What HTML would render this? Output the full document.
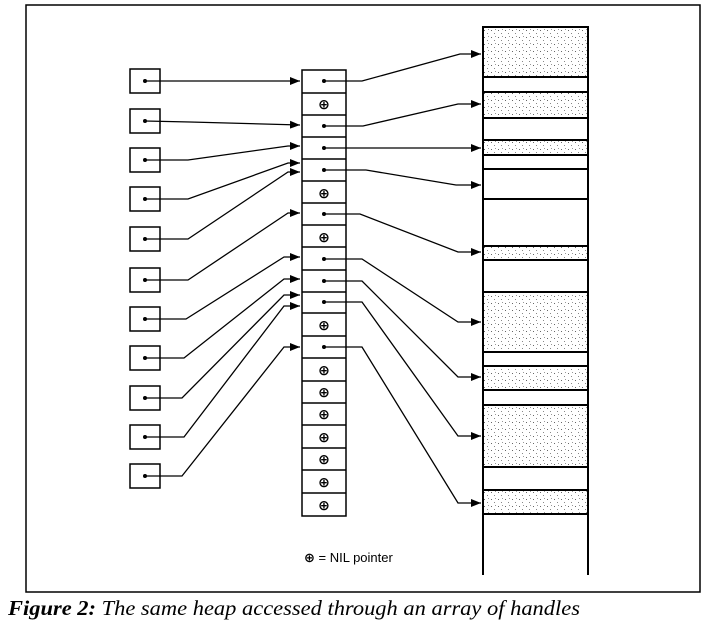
<!DOCTYPE html>
<html><head><meta charset="utf-8"><style>
html,body{margin:0;padding:0;background:#fff;width:712px;height:632px;overflow:hidden}
svg{display:block}
</style></head><body>
<svg width="712" height="632" viewBox="0 0 712 632" xmlns="http://www.w3.org/2000/svg">
<defs>
<pattern id="dots" width="7" height="7" patternUnits="userSpaceOnUse">
<rect width="7" height="7" fill="#fff"/>
<rect x="1" y="2" width="1" height="1" fill="#666"/>
<rect x="4" y="5" width="1" height="1" fill="#888"/>
<rect x="5" y="1" width="1" height="1" fill="#999"/>
</pattern>
<marker id="ah" viewBox="0 0 10 8" refX="10" refY="4" markerWidth="10" markerHeight="8" markerUnits="userSpaceOnUse" orient="auto">
<path d="M0,0 L10,4 L0,8 z" fill="#000"/>
</marker>
</defs>
<rect x="26" y="5" width="674" height="587" fill="none" stroke="#000" stroke-width="1.5"/>

<!-- heap -->
<g stroke="#000" stroke-width="2">
<rect x="483" y="27" width="105" height="50" fill="url(#dots)"/>
<rect x="483" y="92" width="105" height="26" fill="url(#dots)"/>
<rect x="483" y="140" width="105" height="15" fill="url(#dots)"/>
<rect x="483" y="246" width="105" height="14" fill="url(#dots)"/>
<rect x="483" y="292" width="105" height="60" fill="url(#dots)"/>
<rect x="483" y="366" width="105" height="24" fill="url(#dots)"/>
<rect x="483" y="405" width="105" height="62" fill="url(#dots)"/>
<rect x="483" y="490" width="105" height="24" fill="url(#dots)"/>
<line x1="483" y1="27" x2="483" y2="575"/>
<line x1="588" y1="27" x2="588" y2="575"/>
<line x1="483" y1="169" x2="588" y2="169"/>
<line x1="483" y1="199" x2="588" y2="199"/>
</g>

<!-- middle column -->
<g stroke="#000" stroke-width="1.5" fill="none">
<rect x="302" y="70" width="44" height="446"/>
<line x1="302" y1="93" x2="346" y2="93"/><line x1="302" y1="115" x2="346" y2="115"/>
<line x1="302" y1="137" x2="346" y2="137"/><line x1="302" y1="159" x2="346" y2="159"/>
<line x1="302" y1="181" x2="346" y2="181"/><line x1="302" y1="203" x2="346" y2="203"/>
<line x1="302" y1="225" x2="346" y2="225"/><line x1="302" y1="247" x2="346" y2="247"/>
<line x1="302" y1="270" x2="346" y2="270"/><line x1="302" y1="292" x2="346" y2="292"/>
<line x1="302" y1="313" x2="346" y2="313"/><line x1="302" y1="336" x2="346" y2="336"/>
<line x1="302" y1="358" x2="346" y2="358"/><line x1="302" y1="381" x2="346" y2="381"/>
<line x1="302" y1="403" x2="346" y2="403"/><line x1="302" y1="425" x2="346" y2="425"/>
<line x1="302" y1="448" x2="346" y2="448"/><line x1="302" y1="470" x2="346" y2="470"/>
<line x1="302" y1="493" x2="346" y2="493"/>
</g>
<g font-family="DejaVu Sans, sans-serif" font-size="14" font-weight="bold" text-anchor="middle" fill="#000">
<text x="324" y="109">⊕</text><text x="324" y="198">⊕</text><text x="324" y="242">⊕</text>
<text x="324" y="330">⊕</text><text x="324" y="375">⊕</text><text x="324" y="397">⊕</text>
<text x="324" y="419">⊕</text><text x="324" y="442">⊕</text><text x="324" y="464">⊕</text>
<text x="324" y="487">⊕</text><text x="324" y="510">⊕</text>
</g>
<g fill="#000">
<circle cx="324" cy="81" r="2"/><circle cx="324" cy="126" r="2"/><circle cx="324" cy="148" r="2"/>
<circle cx="324" cy="170" r="2"/><circle cx="324" cy="214" r="2"/><circle cx="324" cy="259" r="2"/>
<circle cx="324" cy="281" r="2"/><circle cx="324" cy="302" r="2"/><circle cx="324" cy="347" r="2"/>
</g>

<!-- left boxes -->
<g stroke="#000" stroke-width="1.5" fill="none">
<rect x="130" y="69" width="30" height="24"/><rect x="130" y="109" width="30" height="24"/>
<rect x="130" y="148" width="30" height="24"/><rect x="130" y="187" width="30" height="24"/>
<rect x="130" y="227" width="30" height="24"/><rect x="130" y="268" width="30" height="24"/>
<rect x="130" y="307" width="30" height="24"/><rect x="130" y="346" width="30" height="24"/>
<rect x="130" y="386" width="30" height="24"/><rect x="130" y="425" width="30" height="24"/>
<rect x="130" y="464" width="30" height="24"/>
</g>
<g fill="#000">
<circle cx="145" cy="81" r="2"/><circle cx="145" cy="121" r="2"/><circle cx="145" cy="160" r="2"/>
<circle cx="145" cy="199" r="2"/><circle cx="145" cy="239" r="2"/><circle cx="145" cy="280" r="2"/>
<circle cx="145" cy="319" r="2"/><circle cx="145" cy="358" r="2"/><circle cx="145" cy="398" r="2"/>
<circle cx="145" cy="437" r="2"/><circle cx="145" cy="476" r="2"/>
</g>

<!-- left connectors -->
<g stroke="#000" stroke-width="1.3" fill="none" marker-end="url(#ah)">
<polyline points="145,81 300,81"/>
<polyline points="145,121 190,122 300,125"/>
<polyline points="145,160 188,160 288,146 300,146"/>
<polyline points="145,199 188,199 288,163 300,163"/>
<polyline points="145,239 188,239 288,172 300,172"/>
<polyline points="145,280 188,280 288,213 300,213"/>
<polyline points="145,319 186,319 284,257 300,257"/>
<polyline points="145,358 184,358 284,279 300,279"/>
<polyline points="145,398 182,398 284,295 300,295"/>
<polyline points="145,437 184,437 284,306 300,306"/>
<polyline points="145,476 182,476 284,347 300,347"/>
</g>

<!-- right connectors -->
<g stroke="#000" stroke-width="1.3" fill="none" marker-end="url(#ah)">
<polyline points="324,81 362,81 460,54 481,54"/>
<polyline points="324,126 363,126 458,104 481,104"/>
<polyline points="324,148 481,148"/>
<polyline points="324,170 366,170 456,185 481,185"/>
<polyline points="324,214 360,214 458,252 481,252"/>
<polyline points="324,259 362,259 458,322 481,322"/>
<polyline points="324,281 362,281 458,377 481,377"/>
<polyline points="324,302 362,302 458,436 481,436"/>
<polyline points="324,347 362,347 458,503 481,503"/>
</g>

<text x="304" y="562" font-family="Liberation Sans, sans-serif" font-size="13" fill="#000"><tspan font-family="DejaVu Sans, sans-serif" font-weight="bold">⊕</tspan> = NIL pointer</text>

<text x="8" y="615" font-family="Liberation Serif, serif" font-size="21" font-style="italic" fill="#000" textLength="572" lengthAdjust="spacingAndGlyphs"><tspan font-weight="bold">Figure 2:</tspan> The same heap accessed through an array of handles</text>
</svg>
</body></html>
